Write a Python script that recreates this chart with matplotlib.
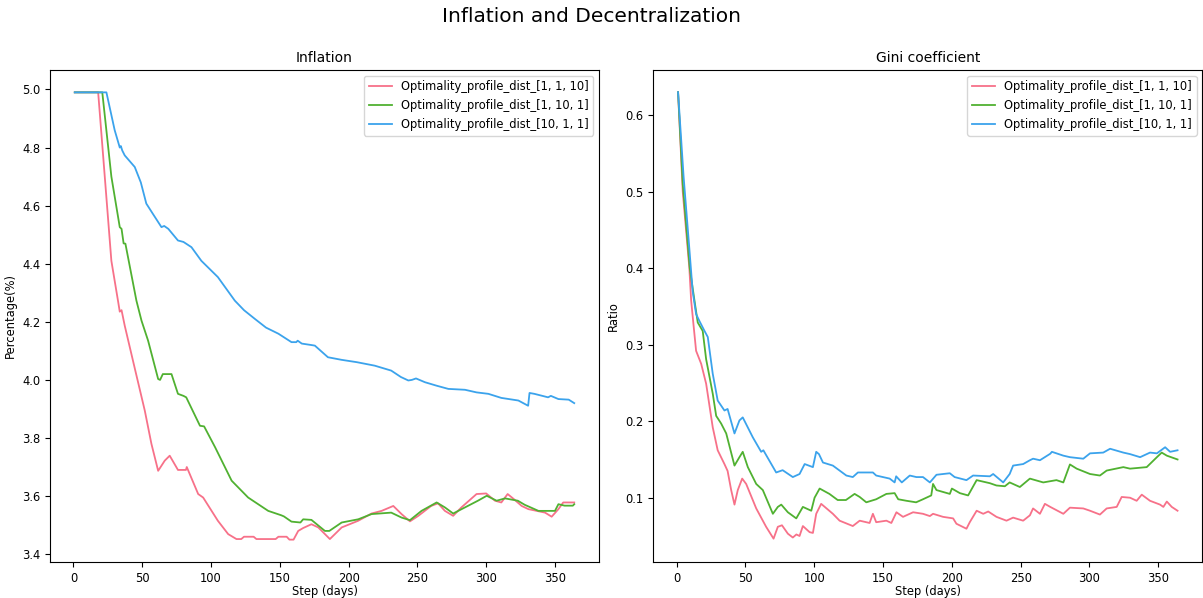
import matplotlib
matplotlib.use("Agg")
import matplotlib.pyplot as plt

# Series labels and colours (husl palette, 3 colours)
labels = ["Optimality_profile_dist_[1, 1, 10]",
          "Optimality_profile_dist_[1, 10, 1]",
          "Optimality_profile_dist_[10, 1, 1]"]
colors = ["#f77189", "#50b131", "#3ba3ec"]

# Inflation (%) — day / value pairs per profile
infl_red_days = [1, 18, 27.6, 32.5, 33.7, 35, 37.3, 44.6, 51.9, 56.7, 61.6, 66.4, 70, 76, 81.8, 82.4,
                 90.7, 94.3, 105, 112.5, 118.5, 122, 124, 131, 133, 147, 149, 155, 157, 160, 163.4,
                 167, 173, 178, 186.4, 195, 207, 216.7, 224, 232.5, 238.5, 244.6, 250.7, 260, 265,
                 270, 276, 282, 293, 300, 306.4, 311, 315.6, 320, 325.8, 330.7, 342.8, 347.6, 352.5,
                 356, 364]
infl_red_vals = [4.99, 4.99, 4.41, 4.27, 4.235, 4.24, 4.187, 4.04, 3.894, 3.78, 3.687, 3.722, 3.739,
                 3.69, 3.69, 3.70, 3.607, 3.595, 3.515, 3.469, 3.452, 3.452, 3.46, 3.46, 3.452, 3.452,
                 3.46, 3.46, 3.45, 3.45, 3.48, 3.49, 3.503, 3.492, 3.452, 3.492, 3.515, 3.54, 3.549,
                 3.566, 3.538, 3.513, 3.532, 3.566, 3.575, 3.549, 3.532, 3.561, 3.607, 3.609, 3.584,
                 3.578, 3.607, 3.59, 3.566, 3.555, 3.543, 3.529, 3.555, 3.578, 3.578]

infl_green_days = [1, 21, 27.6, 33.7, 35, 36.5, 37.8, 45.8, 49.5, 54.3, 61.6, 63, 65, 71.3, 76, 80, 82,
                   92, 95, 103, 115, 127, 141.6, 151, 153, 158.5, 165, 167, 173, 182.8, 186, 195, 207,
                   216.7, 231, 238.5, 244.6, 253, 264, 270, 276, 284.6, 294, 300.4, 307.6, 313.7, 323,
                   328, 338, 350, 352.5, 357, 363, 364]
infl_green_vals = [4.99, 4.99, 4.70, 4.526, 4.52, 4.47, 4.469, 4.273, 4.204, 4.135, 4.003, 4.0, 4.02,
                   4.02, 3.952, 3.945, 3.94, 3.842, 3.84, 3.768, 3.653, 3.595, 3.549, 3.534, 3.53,
                   3.512, 3.509, 3.52, 3.518, 3.48, 3.48, 3.509, 3.52, 3.538, 3.543, 3.526, 3.517,
                   3.549, 3.578, 3.561, 3.54, 3.561, 3.584, 3.601, 3.584, 3.592, 3.584, 3.57, 3.549,
                   3.549, 3.572, 3.567, 3.567, 3.572]

infl_blue_days = [1, 24, 30, 33.7, 34.5, 35.5, 37.3, 44.6, 49, 53, 58, 64, 66, 69, 76, 80, 85.8, 93,
                  105, 117.3, 124, 131.9, 140, 149, 158.5, 162, 163, 166, 173, 175.5, 185, 195, 206,
                  219, 231, 238, 243.4, 246, 249, 255.5, 264, 272.5, 284.6, 293, 301.6, 311, 323.4,
                  330.5, 331.5, 335, 340, 345, 347, 352.5, 360, 364]
infl_blue_vals = [4.99, 4.99, 4.86, 4.80, 4.805, 4.79, 4.773, 4.733, 4.68, 4.607, 4.57, 4.526, 4.53,
                  4.52, 4.48, 4.475, 4.457, 4.41, 4.354, 4.273, 4.24, 4.21, 4.18, 4.159, 4.13, 4.13,
                  4.135, 4.125, 4.12, 4.118, 4.078, 4.069, 4.061, 4.049, 4.032, 4.01, 3.998, 4.0,
                  4.005, 3.992, 3.98, 3.969, 3.966, 3.957, 3.952, 3.938, 3.929, 3.911, 3.955, 3.952,
                  3.946, 3.94, 3.945, 3.934, 3.932, 3.92]

# Gini coefficient — day / value pairs per profile
gini_red_days = [1, 4.4, 9.2, 10.5, 12, 14.1, 17.8, 21.4, 26.2, 29.8, 34.7, 37, 39.6, 42, 44.4, 47.6,
                 50.5, 57.8, 65, 70.4, 73.5, 76.5, 80.8, 84.4, 87, 89.3, 91.7, 96.6, 99, 101.4, 105,
                 113.5, 118.4, 128, 133, 140.2, 142.6, 145, 152.4, 156, 159.7, 164.5, 171.8, 179, 184,
                 186.3, 193.6, 200.9, 203.3, 210.6, 213, 218, 222.8, 226.4, 232.4, 239.7, 244.5,
                 251.8, 256.7, 259, 264, 267.6, 271.5, 281, 285.8, 295.5, 300.4, 307.6, 312.5, 319.8,
                 323.4, 329.5, 334.3, 338, 344, 351.3, 353.7, 356.2, 359.8, 364]
gini_red_vals = [0.63, 0.50, 0.40, 0.358, 0.33, 0.292, 0.275, 0.249, 0.192, 0.162, 0.144, 0.135, 0.110,
                 0.091, 0.110, 0.125, 0.118, 0.086, 0.062, 0.0465, 0.062, 0.064, 0.053, 0.048, 0.052,
                 0.050, 0.063, 0.055, 0.054, 0.079, 0.092, 0.079, 0.070, 0.063, 0.070, 0.067, 0.079,
                 0.068, 0.070, 0.067, 0.081, 0.075, 0.081, 0.079, 0.076, 0.079, 0.075, 0.073, 0.066,
                 0.0595, 0.068, 0.083, 0.079, 0.082, 0.075, 0.070, 0.074, 0.070, 0.077, 0.086, 0.079,
                 0.092, 0.088, 0.079, 0.087, 0.086, 0.083, 0.078, 0.086, 0.088, 0.101, 0.100, 0.096,
                 0.104, 0.096, 0.091, 0.088, 0.095, 0.088, 0.083]

gini_green_days = [1, 4.4, 9.5, 12.9, 15.3, 18.9, 21.4, 26.2, 28.7, 32.3, 36, 42, 45.6, 48, 51.7, 57.8,
                   62.6, 69.9, 73.5, 76, 80.8, 86.9, 91.7, 97.8, 100.2, 103.9, 111, 117, 123, 129.3,
                   133, 137.8, 145, 152.4, 158.4, 161, 167, 174, 179, 185, 186.3, 188.8, 198.5, 200,
                   205.8, 211.8, 218, 227.6, 232.4, 238.5, 242, 249.4, 256.7, 266.4, 276, 281, 285.8,
                   290.7, 300.4, 307.6, 312.5, 324.6, 329.5, 341.6, 349, 352.5, 356.2, 364]
gini_green_vals = [0.63, 0.51, 0.40, 0.358, 0.329, 0.318, 0.281, 0.236, 0.207, 0.197, 0.184, 0.142,
                   0.153, 0.160, 0.140, 0.118, 0.110, 0.079, 0.088, 0.091, 0.081, 0.073, 0.088, 0.083,
                   0.100, 0.112, 0.105, 0.097, 0.097, 0.105, 0.101, 0.094, 0.098, 0.105, 0.106, 0.098,
                   0.096, 0.094, 0.098, 0.103, 0.118, 0.110, 0.105, 0.112, 0.106, 0.103, 0.123, 0.119,
                   0.116, 0.115, 0.120, 0.114, 0.125, 0.120, 0.123, 0.120, 0.1435, 0.138, 0.131, 0.129,
                   0.1355, 0.140, 0.138, 0.140, 0.153, 0.159, 0.155, 0.150]

gini_blue_days = [1, 5, 9, 11.6, 14.1, 16.5, 20.2, 22.6, 26.2, 29.8, 34.7, 37, 42, 45.6, 48, 55.3,
                  61.4, 63, 72.3, 77, 84.4, 89.3, 93, 99, 101.4, 103.4, 106.3, 113.5, 123.3, 128,
                  131.7, 142.6, 145, 154.8, 158.4, 159.5, 163.6, 169.4, 174.2, 179, 184, 188.8, 198.5,
                  202, 210.6, 215.4, 227.6, 230, 237.3, 242, 244.5, 251.8, 256.7, 259, 264, 271.5,
                  272.7, 281, 285.8, 295.5, 300.4, 310, 315, 324.6, 329.5, 336.8, 344, 349, 355,
                  358.6, 364]
gini_blue_vals = [0.63, 0.52, 0.43, 0.37, 0.34, 0.331, 0.318, 0.310, 0.262, 0.227, 0.214, 0.216, 0.184,
                  0.201, 0.205, 0.179, 0.160, 0.162, 0.133, 0.136, 0.127, 0.131, 0.144, 0.140, 0.160,
                  0.157, 0.146, 0.142, 0.129, 0.127, 0.133, 0.133, 0.129, 0.125, 0.120, 0.128, 0.120,
                  0.129, 0.127, 0.127, 0.120, 0.130, 0.132, 0.127, 0.123, 0.129, 0.128, 0.131, 0.120,
                  0.131, 0.142, 0.144, 0.149, 0.151, 0.149, 0.1575, 0.160, 0.155, 0.153, 0.151, 0.158,
                  0.159, 0.164, 0.159, 0.157, 0.153, 0.159, 0.158, 0.166, 0.160, 0.162]

inflation = [(infl_red_days, infl_red_vals), (infl_green_days, infl_green_vals),
             (infl_blue_days, infl_blue_vals)]
gini = [(gini_red_days, gini_red_vals), (gini_green_days, gini_green_vals),
        (gini_blue_days, gini_blue_vals)]

W, H = 1203, 598
fig = plt.figure(figsize=(W / 100, H / 100), dpi=100)
ax1 = fig.add_axes([50 / W, 36 / H, 549 / W, 492 / H])
ax2 = fig.add_axes([653.3 / W, 36 / H, 549 / W, 492 / H])

FS = 8.3
for ax, series, title, ylabel in [(ax1, inflation, "Inflation", "Percentage(%)"),
                                  (ax2, gini, "Gini coefficient", "Ratio")]:
    for (d, v), c, lab in zip(series, colors, labels):
        ax.plot(d, v, color=c, lw=1.3, label=lab)
    ax.set_title(title, fontsize=10)
    ax.set_xlabel("Step (days)", fontsize=FS, labelpad=0)
    ax.set_ylabel(ylabel, fontsize=FS)
    ax.tick_params(labelsize=FS)
    ax.set_xlim(-17, 382)
    ax.set_xticks([0, 50, 100, 150, 200, 250, 300, 350])
    ax.legend(loc="upper right", fontsize=FS)

ax1.set_ylim(3.373, 5.067)
ax1.set_yticks([3.4, 3.6, 3.8, 4.0, 4.2, 4.4, 4.6, 4.8, 5.0])
ax2.set_ylim(0.016, 0.659)
ax2.set_yticks([0.1, 0.2, 0.3, 0.4, 0.5, 0.6])

fig.suptitle("Inflation and Decentralization", fontsize=14.5, x=0.492, y=0.988)
fig.savefig("out.png", dpi=100)
